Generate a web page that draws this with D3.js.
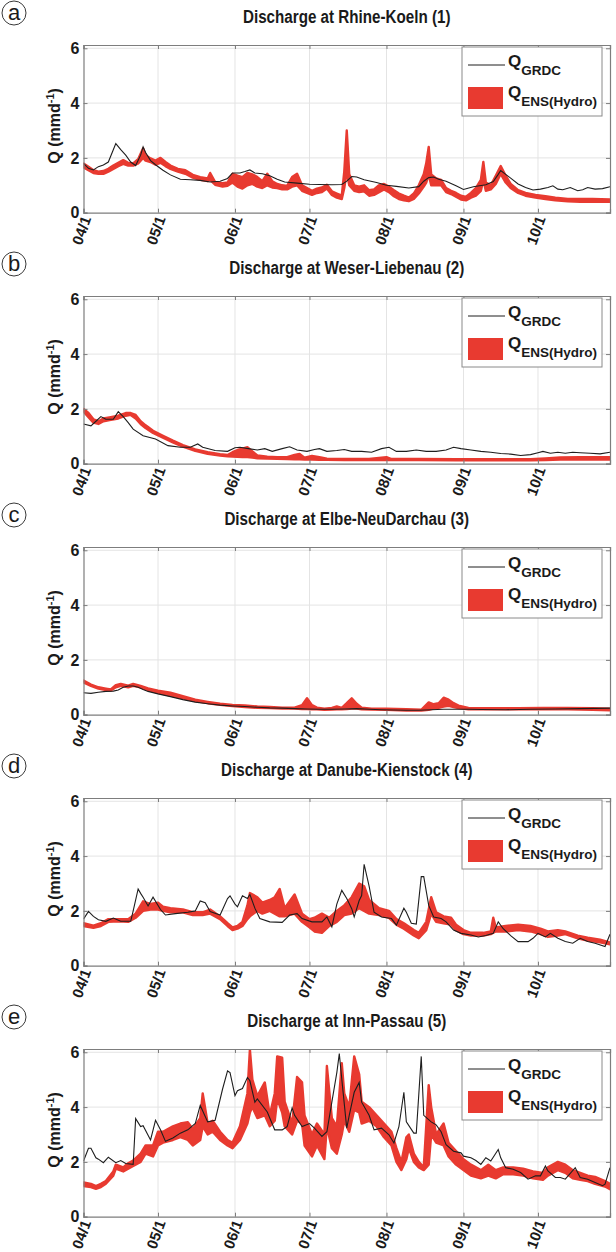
<!DOCTYPE html>
<html>
<head>
<meta charset="utf-8">
<script src="https://cdn.jsdelivr.net/npm/d3@7"></script>
<style>
  body { margin: 0; background: #fff; }
  svg { display: block; }
  text { font-family: "Liberation Sans", Arial, Helvetica, sans-serif; font-weight: bold; fill: #1a1a1a; }
  text.panel-letter { font-weight: normal; }
</style>
</head>
<body>
<svg id="chart" width="616" height="1252"></svg>
<script>
// Daily discharge (mm/d), days counted from 1 April.
// Observed series: [day, Q]; ensemble envelope: [day, Qmin, Qmax].

const rhineObs = [[0,1.8],[2,1.62],[4,1.56],[6,1.68],[8,1.74],[10,1.85],[12,2.3],[13,2.52],[15,2.3],[17,2.1],[19,1.85],[21,1.72],[23,2.1],[24,2.4],[25,2.2],[27,1.9],[29,1.75],[32,1.55],[35,1.38],[39,1.22],[43,1.2],[47,1.18],[51,1.12],[55,1.15],[58,1.25],[60,1.45],[63,1.45],[65,1.5],[67,1.56],[69,1.45],[72,1.42],[75,1.35],[78,1.22],[81,1.12],[86,1.08],[91,1.04],[95,1.03],[100,1.02],[104,1.03],[106,1.15],[108,1.32],[110,1.3],[113,1.2],[118,1.1],[122,1.0],[126,0.96],[131,0.9],[135,0.95],[137,1.15],[139,1.28],[141,1.3],[143,1.22],[146,1.15],[150,0.98],[153,0.85],[157,0.95],[162,1.02],[165,1.14],[167,1.4],[168,1.54],[170,1.4],[172,1.26],[175,1.05],[178,0.92],[181,0.83],[184,0.86],[187,0.92],[189,0.98],[191,0.86],[193,0.84],[196,0.92],[199,0.8],[201,0.84],[203,0.92],[206,0.86],[209,0.88],[212,0.95]];
const rhineEns = [[0,1.65,1.8],[2,1.55,1.68],[4,1.45,1.55],[6,1.42,1.5],[8,1.42,1.52],[10,1.5,1.6],[12,1.6,1.72],[14,1.7,1.82],[16,1.78,1.92],[18,1.72,1.82],[20,1.72,1.8],[22,1.8,1.95],[24,2.0,2.35],[25,1.9,2.1],[27,1.85,1.98],[29,1.75,1.9],[31,1.82,2.0],[33,1.7,1.85],[35,1.6,1.72],[38,1.5,1.6],[41,1.42,1.55],[44,1.28,1.38],[47,1.2,1.3],[50,1.15,1.25],[51,1.2,1.45],[53,1.02,1.12],[56,0.95,1.08],[58,0.98,1.1],[60,1.1,1.42],[62,0.95,1.35],[64,0.88,1.3],[66,1.0,1.45],[68,1.05,1.4],[70,0.95,1.3],[72,0.9,1.15],[74,1.0,1.42],[76,0.92,1.15],[78,0.9,1.05],[80,0.85,1.0],[82,0.85,0.98],[84,0.95,1.3],[86,1.0,1.42],[88,0.8,1.0],[90,0.72,0.9],[92,0.65,0.8],[94,0.72,0.88],[96,0.75,0.92],[98,0.88,1.02],[100,0.65,0.78],[102,0.55,0.7],[104,0.5,0.62],[105,0.9,1.5],[106,1.5,3.0],[107,1.0,1.4],[109,0.8,1.0],[111,0.75,0.95],[113,0.78,1.0],[115,0.62,0.82],[117,0.65,0.85],[119,0.75,1.0],[121,0.85,1.05],[123,0.75,0.95],[125,0.6,0.82],[127,0.5,0.7],[129,0.45,0.62],[131,0.42,0.55],[133,0.5,0.7],[135,0.7,1.0],[137,0.95,1.4],[138,1.1,1.8],[139,1.4,2.4],[140,1.0,1.4],[142,1.0,1.25],[144,1.0,1.2],[146,0.75,0.9],[148,0.68,0.8],[150,0.58,0.72],[152,0.48,0.62],[154,0.45,0.58],[156,0.55,0.72],[158,0.62,0.9],[160,0.8,1.2],[161,1.2,1.85],[162,0.8,1.1],[164,0.85,1.0],[166,1.05,1.35],[168,1.42,1.7],[170,1.1,1.35],[172,0.9,1.05],[175,0.72,0.82],[178,0.62,0.72],[182,0.55,0.65],[186,0.5,0.6],[190,0.45,0.55],[195,0.42,0.5],[200,0.4,0.5],[205,0.4,0.5],[212,0.4,0.48]];

const weserObs = [[0,1.45],[3,1.38],[5,1.55],[7,1.72],[9,1.62],[12,1.62],[14,1.9],[16,1.72],[18,1.5],[20,1.26],[24,1.02],[29,0.9],[34,0.66],[39,0.6],[43,0.6],[46,0.72],[48,0.6],[53,0.48],[58,0.45],[61,0.58],[63,0.6],[67,0.54],[70,0.5],[73,0.55],[76,0.45],[80,0.55],[83,0.62],[86,0.5],[90,0.45],[93,0.52],[95,0.55],[98,0.45],[102,0.48],[105,0.52],[108,0.45],[112,0.45],[116,0.42],[120,0.55],[123,0.6],[126,0.45],[130,0.45],[134,0.5],[138,0.45],[142,0.45],[146,0.5],[149,0.6],[152,0.55],[156,0.5],[160,0.45],[164,0.42],[168,0.37],[172,0.35],[176,0.3],[180,0.33],[183,0.4],[185,0.45],[188,0.38],[191,0.42],[194,0.38],[197,0.42],[200,0.4],[204,0.38],[208,0.36],[212,0.42]];
const weserEns = [[0,1.9,2.0],[2,1.7,1.85],[4,1.5,1.62],[6,1.45,1.55],[8,1.55,1.65],[11,1.6,1.7],[14,1.65,1.75],[17,1.75,1.85],[19,1.78,1.85],[21,1.65,1.78],[23,1.45,1.55],[25,1.3,1.4],[28,1.12,1.2],[32,0.95,1.02],[36,0.78,0.84],[40,0.62,0.68],[45,0.47,0.52],[50,0.36,0.42],[55,0.3,0.35],[58,0.27,0.32],[60,0.26,0.42],[62,0.25,0.5],[64,0.24,0.55],[66,0.24,0.6],[68,0.22,0.45],[70,0.2,0.3],[74,0.19,0.26],[78,0.18,0.24],[82,0.17,0.24],[85,0.16,0.32],[87,0.16,0.36],[89,0.15,0.22],[92,0.15,0.28],[95,0.14,0.24],[98,0.14,0.18],[105,0.13,0.17],[115,0.13,0.17],[122,0.13,0.24],[124,0.13,0.17],[135,0.13,0.17],[150,0.12,0.16],[165,0.12,0.16],[180,0.12,0.16],[186,0.13,0.19],[192,0.15,0.23],[200,0.15,0.24],[212,0.15,0.24]];

const elbeObs = [[0,0.8],[3,0.78],[6,0.82],[9,0.85],[12,0.86],[14,0.9],[16,1.0],[18,1.05],[20,1.05],[22,1.0],[24,0.92],[26,0.85],[30,0.76],[35,0.66],[40,0.55],[45,0.46],[50,0.4],[55,0.35],[60,0.32],[65,0.3],[70,0.27],[75,0.25],[80,0.24],[85,0.22],[90,0.21],[95,0.2],[100,0.2],[105,0.21],[110,0.22],[115,0.2],[120,0.18],[125,0.17],[130,0.16],[135,0.16],[140,0.18],[145,0.2],[150,0.2],[155,0.2],[160,0.19],[170,0.18],[180,0.2],[190,0.21],[200,0.22],[212,0.24]];
const elbeEns = [[0,1.18,1.25],[3,1.05,1.1],[6,0.95,1.0],[9,0.9,0.95],[11,0.88,0.92],[13,1.0,1.08],[15,1.05,1.12],[18,1.0,1.06],[20,1.05,1.12],[23,1.0,1.05],[26,0.9,0.96],[30,0.8,0.88],[35,0.7,0.8],[40,0.6,0.68],[45,0.5,0.55],[50,0.42,0.47],[55,0.36,0.4],[60,0.32,0.36],[65,0.28,0.34],[70,0.25,0.3],[75,0.24,0.28],[80,0.22,0.26],[85,0.22,0.26],[88,0.21,0.35],[90,0.21,0.6],[92,0.2,0.35],[94,0.2,0.26],[97,0.18,0.22],[100,0.19,0.25],[102,0.2,0.3],[104,0.2,0.25],[106,0.21,0.42],[108,0.22,0.6],[110,0.22,0.4],[112,0.2,0.26],[116,0.19,0.22],[122,0.18,0.22],[130,0.15,0.2],[136,0.15,0.18],[139,0.18,0.45],[141,0.22,0.38],[143,0.25,0.42],[145,0.3,0.62],[147,0.32,0.55],[149,0.28,0.42],[151,0.24,0.33],[155,0.2,0.25],[165,0.2,0.24],[175,0.2,0.24],[185,0.2,0.25],[195,0.2,0.25],[205,0.18,0.24],[212,0.16,0.22]];

const danubeObs = [[0,1.7],[2,1.98],[4,1.8],[6,1.68],[9,1.62],[12,1.74],[15,1.62],[19,1.62],[20,2.0],[22,2.8],[23,2.64],[24,2.5],[26,2.18],[28,2.5],[31,2.05],[33,1.85],[37,1.9],[42,1.95],[45,2.0],[47,2.36],[49,2.3],[51,1.98],[55,1.85],[58,2.45],[59,2.55],[61,2.25],[62,2.15],[64,2.55],[66,2.45],[67,2.6],[69,2.1],[71,1.72],[75,1.6],[80,1.58],[83,1.85],[86,1.9],[88,1.72],[92,1.6],[96,1.6],[98,1.78],[100,1.42],[102,2.25],[104,2.75],[106,2.45],[108,2.08],[109,1.78],[111,2.38],[112,2.56],[113,3.7],[115,2.9],[117,1.95],[120,1.78],[124,1.72],[126,1.48],[129,2.1],[130,1.95],[132,1.55],[134,1.52],[136,3.25],[137,3.25],[139,2.2],[141,1.78],[144,1.72],[146,1.6],[149,1.3],[152,1.18],[156,1.12],[159,1.05],[162,1.1],[165,1.18],[167,1.6],[169,1.35],[172,1.1],[175,0.88],[179,0.88],[181,1.0],[183,1.18],[186,1.05],[188,1.18],[191,1.0],[194,0.88],[197,0.82],[200,1.0],[203,0.88],[206,0.82],[210,0.7],[212,1.15]];
const danubeEns = [[0,1.45,1.55],[4,1.38,1.46],[7,1.45,1.55],[10,1.6,1.7],[14,1.62,1.7],[18,1.6,1.7],[21,1.75,1.9],[24,2.0,2.35],[27,2.05,2.25],[30,2.05,2.3],[32,2.0,2.15],[35,1.95,2.1],[40,1.95,2.05],[44,1.85,1.95],[48,1.85,1.95],[51,1.9,2.05],[55,1.7,1.8],[58,1.45,1.55],[60,1.3,1.4],[62,1.35,1.45],[64,1.45,1.6],[66,1.7,2.2],[67,1.8,2.65],[70,2.0,2.5],[72,1.9,2.3],[75,2.0,2.4],[77,1.9,2.5],[79,1.8,2.8],[81,1.8,2.1],[85,1.9,2.6],[88,1.6,1.9],[91,1.4,1.7],[93,1.25,1.75],[96,1.2,1.9],[99,1.45,1.75],[102,1.6,2.0],[105,1.85,2.2],[108,1.9,2.5],[111,2.1,3.0],[113,2.0,2.9],[115,1.9,2.4],[119,1.85,2.1],[123,1.75,2.0],[126,1.5,1.7],[129,1.35,1.55],[133,1.1,1.3],[135,1.0,1.2],[138,1.3,1.6],[140,1.9,2.5],[142,1.6,1.95],[145,1.55,1.8],[148,1.5,1.75],[150,1.3,1.5],[153,1.15,1.3],[156,1.1,1.2],[161,1.1,1.2],[164,1.15,1.25],[165,1.2,1.75],[166,1.25,1.4],[170,1.25,1.45],[175,1.3,1.5],[180,1.25,1.45],[184,1.15,1.35],[187,1.05,1.25],[191,1.1,1.3],[194,1.15,1.25],[199,1.0,1.1],[203,0.92,1.02],[208,0.85,0.95],[212,0.78,0.85]];

const innObs = [[0,2.03],[2,2.5],[3,2.5],[5,2.15],[6,2.1],[8,1.97],[10,2.17],[13,1.97],[15,2.05],[17,1.94],[20,1.91],[21,3.58],[23,3.29],[24,3.32],[27,2.8],[29,3.52],[31,3.17],[33,2.75],[36,2.87],[39,3.05],[42,3.17],[45,3.4],[47,4.06],[50,3.46],[53,3.52],[56,4.66],[58,5.32],[59,5.26],[61,4.42],[62,4.6],[64,4.68],[66,5.08],[67,4.96],[69,4.18],[70,4.3],[74,3.82],[77,3.17],[80,3.17],[82,3.29],[84,3.97],[85,3.7],[88,3.29],[91,3.4],[93,3.23],[96,2.93],[98,3.1],[100,4.18],[102,5.26],[103,5.95],[104,5.02],[106,3.23],[107,3.7],[109,4.54],[111,4.9],[112,4.18],[115,3.7],[117,3.17],[120,3.23],[123,2.99],[125,2.69],[127,3.29],[129,4.54],[130,3.46],[133,3.05],[134,3.05],[136,5.85],[137,3.7],[140,3.46],[142,3.35],[144,3.1],[146,2.63],[149,2.39],[152,2.33],[153,2.21],[156,2.15],[158,2.05],[160,1.91],[162,2.15],[164,2.03],[167,2.45],[168,2.15],[170,1.79],[173,1.73],[176,1.61],[179,1.37],[182,1.49],[184,1.49],[186,1.85],[187,1.67],[190,1.43],[192,1.43],[194,1.37],[198,1.79],[200,1.43],[203,1.37],[206,1.25],[209,1.13],[210,1.19],[212,1.79]];
const innEns = [[0,1.12,1.25],[3,1.08,1.2],[5,1.02,1.12],[7,1.08,1.2],[9,1.2,1.3],[12,1.5,1.65],[13,1.75,1.9],[16,1.65,1.8],[18,1.75,1.95],[20,1.85,2.05],[23,2.0,2.3],[25,2.3,2.6],[28,2.2,2.6],[30,2.6,3.1],[32,2.7,3.1],[36,2.8,3.3],[39,2.9,3.4],[42,2.8,3.45],[44,2.6,3.2],[47,2.8,3.6],[48,3.3,4.5],[50,3.0,3.4],[52,3.1,3.5],[55,2.8,3.1],[58,2.6,2.8],[60,2.5,2.7],[63,2.8,3.3],[66,3.4,4.5],[67,3.8,6.1],[68,4.0,5.0],[70,3.6,4.4],[73,3.7,4.9],[75,3.3,3.7],[77,3.5,4.5],[78,4.3,5.85],[80,3.8,5.8],[81,3.3,4.2],[84,3.0,3.4],[86,3.5,5.1],[88,3.4,4.9],[89,2.6,3.7],[92,2.2,3.0],[94,2.6,3.4],[97,2.1,3.0],[98,3.3,5.5],[100,2.5,3.6],[102,2.3,3.3],[104,3.0,5.6],[105,3.5,4.5],[107,3.1,4.0],[109,3.9,5.85],[111,3.8,5.2],[112,3.4,4.2],[115,3.5,4.0],[118,3.3,3.7],[121,2.9,3.4],[124,2.6,3.1],[126,2.0,2.5],[128,1.7,2.0],[130,2.1,2.9],[131,2.5,3.0],[133,2.0,2.3],[135,1.8,2.0],[137,1.7,1.8],[139,1.9,4.8],[140,3.0,4.0],[142,2.7,3.0],[145,2.6,3.4],[147,2.2,2.7],[150,1.9,2.4],[153,1.7,2.1],[156,1.5,1.9],[160,1.4,1.7],[163,1.5,1.9],[166,1.4,1.7],[169,1.55,1.8],[173,1.55,1.8],[177,1.5,1.75],[181,1.4,1.65],[185,1.35,1.6],[187,1.5,1.8],[191,1.7,2.0],[194,1.6,1.9],[197,1.4,1.7],[200,1.35,1.6],[203,1.3,1.5],[206,1.2,1.45],[210,1.1,1.3],[212,1.0,1.2]];

const panelLetters = ["a", "b", "c", "d", "e"];
const panelTitles = [
  "Discharge at Rhine-Koeln (1)",
  "Discharge at Weser-Liebenau (2)",
  "Discharge at Elbe-NeuDarchau (3)",
  "Discharge at Danube-Kienstock (4)",
  "Discharge at Inn-Passau (5)"
];
const obsSeries = [rhineObs, weserObs, elbeObs, danubeObs, innObs];
const ensSeries = [rhineEns, weserEns, elbeEns, danubeEns, innEns];
const yTickValues = [0, 2, 4, 6];
const lastDay = 212;

// ---- layout ----
const svg = d3.select("#chart");
const panelStep = 251;
const plot = { left: 83.5, right: 610, top: 45, bottom: 212.7 };
const RED = "#e83a30";
const GRID = "#e4e4e4";
const FRAME = "#7d7d7d";

const start = new Date(2001, 3, 1);
const toDate = d => d3.timeDay.offset(start, d);
const end = toDate(lastDay);

const x = d3.scaleTime().domain([start, end]).range([plot.left, plot.right]);
const y = d3.scaleLinear().domain([0, 6.12]).range([plot.bottom, plot.top]);
const monthTicks = d3.timeMonth.range(start, end);
const fmt = d3.timeFormat("%m/%-d");

const line = d3.line().x(d => x(toDate(d[0]))).y(d => y(d[1]));
const band = d3.area().x(d => x(toDate(d[0]))).y0(d => y(d[1])).y1(d => y(d[2]));

svg.append("defs").append("clipPath").attr("id", "plotClip")
  .append("rect")
  .attr("x", plot.left).attr("y", plot.top)
  .attr("width", plot.right - plot.left).attr("height", plot.bottom - plot.top);

panelTitles.forEach((title, i) => {
  const g = svg.append("g").attr("transform", `translate(0,${i * panelStep})`);

  // grid
  g.append("g").selectAll("line").data(monthTicks.slice(1)).join("line")
    .attr("x1", d => x(d)).attr("x2", d => x(d))
    .attr("y1", plot.top).attr("y2", plot.bottom)
    .attr("stroke", GRID).attr("stroke-width", 1);
  g.append("g").selectAll("line").data(yTickValues.slice(1)).join("line")
    .attr("x1", plot.left).attr("x2", plot.right)
    .attr("y1", d => y(d)).attr("y2", d => y(d))
    .attr("stroke", GRID).attr("stroke-width", 1);

  // ensemble envelope and observed discharge
  const data = g.append("g").attr("clip-path", "url(#plotClip)");
  data.append("path").datum(ensSeries[i]).attr("d", band)
    .attr("fill", RED).attr("stroke", RED).attr("stroke-width", 2.4)
    .attr("stroke-linejoin", "round");
  data.append("path").datum(obsSeries[i]).attr("d", line)
    .attr("fill", "none").attr("stroke", "#1e1e1e").attr("stroke-width", 1.1);

  // boxed axes with inward ticks
  const xAxisB = d3.axisBottom(x).tickValues(monthTicks).tickSize(-4).tickFormat("");
  const xAxisT = d3.axisTop(x).tickValues(monthTicks).tickSize(-4).tickFormat("");
  const yAxisL = d3.axisLeft(y).tickValues(yTickValues).tickSize(-4).tickFormat("");
  const yAxisR = d3.axisRight(y).tickValues(yTickValues).tickSize(-4).tickFormat("");
  [[xAxisB, `translate(0,${plot.bottom})`], [xAxisT, `translate(0,${plot.top})`],
   [yAxisL, `translate(${plot.left},0)`], [yAxisR, `translate(${plot.right},0)`]].forEach(([ax, tr]) => {
    const a = g.append("g").attr("transform", tr).call(ax);
    a.select(".domain").attr("stroke", FRAME).attr("stroke-width", 1.2);
    a.selectAll(".tick line").attr("stroke", FRAME);
  });

  // y tick labels
  g.append("g").selectAll("text").data(yTickValues).join("text")
    .attr("x", plot.left - 4).attr("y", d => y(d)).attr("dy", "0.36em")
    .attr("text-anchor", "end").attr("font-size", 16).text(d => d);

  // x tick labels, rotated
  g.append("g").selectAll("text").data(monthTicks).join("text")
    .attr("transform", d => `translate(${x(d) + 3},${plot.bottom + 4}) rotate(-70)`)
    .attr("text-anchor", "end").attr("dy", "0.35em")
    .attr("font-size", 15).text(d => fmt(d));

  // y axis label
  const yl = g.append("text")
    .attr("transform", `translate(60,${(plot.top + plot.bottom) / 2 - 3}) rotate(-90)`)
    .attr("text-anchor", "middle").attr("font-size", 16);
  yl.append("tspan").text("Q (mmd");
  yl.append("tspan").attr("font-size", 11).attr("dy", -6).text("-1");
  yl.append("tspan").attr("dy", 6).text(")");

  // title
  g.append("text")
    .attr("transform", `translate(${(plot.left + plot.right) / 2},23) scale(0.8,1)`)
    .attr("text-anchor", "middle").attr("font-size", 19).text(title);

  // circled panel letter
  g.append("circle").attr("cx", 14).attr("cy", 13).attr("r", 12)
    .attr("fill", "none").attr("stroke", "#222").attr("stroke-width", 0.9);
  g.append("text").attr("class", "panel-letter")
    .attr("x", 14).attr("y", 13).attr("dy", "0.34em")
    .attr("text-anchor", "middle").attr("font-size", 22)
    .text(panelLetters[i]);

  // legend
  const lg = g.append("g");
  lg.append("rect").attr("x", 462).attr("y", 47).attr("width", 140).attr("height", 69)
    .attr("fill", "#fff").attr("stroke", "#8a8a8a").attr("stroke-width", 1);
  lg.append("line").attr("x1", 468).attr("x2", 505).attr("y1", 65).attr("y2", 65)
    .attr("stroke", "#1e1e1e").attr("stroke-width", 1);
  const t1 = lg.append("text").attr("x", 508).attr("y", 67).attr("font-size", 17);
  t1.append("tspan").text("Q");
  t1.append("tspan").attr("font-size", 13.5).attr("dy", 8).text("GRDC");
  lg.append("rect").attr("x", 468).attr("y", 87).attr("width", 35).attr("height", 22)
    .attr("fill", RED);
  const t2 = lg.append("text").attr("x", 508).attr("y", 98).attr("font-size", 17);
  t2.append("tspan").text("Q");
  t2.append("tspan").attr("font-size", 13.5).attr("dy", 8).text("ENS(Hydro)");
});
</script>
</body>
</html>
